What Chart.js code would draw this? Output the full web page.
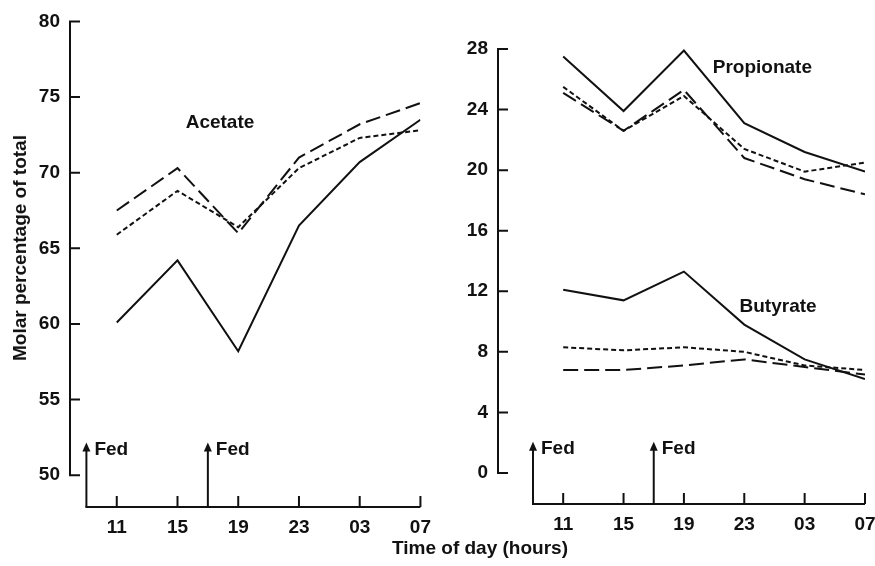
<!DOCTYPE html>
<html>
<head>
<meta charset="utf-8">
<script src="https://cdn.jsdelivr.net/npm/chart.js@4.4.1/dist/chart.umd.min.js"></script>
<style>
  body { margin: 0; background: #fff; width: 875px; height: 566px; overflow: hidden; position: relative;
         font-family: "Liberation Sans", Arial, sans-serif; color: #111; }
  canvas { position: absolute; top: 0; }
  #left { left: 0; }
  #right { left: 435px; }
  .title { position: absolute; font-size: 19px; font-weight: bold; white-space: nowrap; }
  #ytitle { left: 20px; top: 248px; transform: translate(-50%, -50%) rotate(-90deg); }
  #xtitle { left: 480px; top: 548px; transform: translate(-50%, -50%); }
</style>
</head>
<body>
<canvas id="left" width="440" height="566"></canvas>
<canvas id="right" width="450" height="566"></canvas>
<div class="title" id="ytitle">Molar percentage of total</div>
<div class="title" id="xtitle">Time of day (hours)</div>
<script>
const hours = ["11", "15", "19", "23", "03", "07"];
const fedHours = [9, 17];

// acetate (left panel)
const acetateSolid = [60.1, 64.2, 58.2, 66.5, 70.7, 73.5];
const acetateShort = [65.9, 68.8, 66.4, 70.3, 72.3, 72.8];
const acetateLong = [67.5, 70.3, 66.0, 71.0, 73.2, 74.6];

// propionate (right panel)
const propSolid = [27.5, 23.9, 27.9, 23.1, 21.2, 19.9];
const propShort = [25.5, 22.6, 24.9, 21.4, 19.9, 20.5];
const propLong = [25.1, 22.6, 25.3, 20.8, 19.4, 18.4];

// butyrate (right panel)
const butSolid = [12.1, 11.4, 13.3, 9.8, 7.5, 6.2];
const butShort = [8.3, 8.1, 8.3, 8.0, 7.1, 6.8];
const butLong = [6.8, 6.8, 7.1, 7.5, 7.0, 6.5];

const leftTicks = [50, 55, 60, 65, 70, 75, 80];
const rightTicks = [0, 4, 8, 12, 16, 20, 24, 28];

const INK = "#111";
const FONT = "Liberation Sans, Arial, sans-serif";
const SOLID = [];
const SHORT = [5, 3];
const LONG = [15, 6];

// hour of day -> position on the index axis (11h = 0, 4 h per step)
function hourPos(h) {
  return (h - 11) / 4;
}

function line(values, dash) {
  return {
    data: values.map((v, i) => ({ x: i, y: v })),
    borderColor: INK,
    borderWidth: 2,
    borderDash: dash,
    pointRadius: 0,
    tension: 0,
    fill: false,
  };
}

function frame(ticks, fedTip, names) {
  return {
    id: "frame",
    afterDraw(chart) {
      const { ctx, chartArea } = chart;
      const x = chart.scales.x;
      const y = chart.scales.y;
      ctx.save();
      ctx.strokeStyle = INK;
      ctx.fillStyle = INK;
      ctx.lineWidth = 2;

      // y axis with inward ticks
      const ax = chartArea.left;
      ctx.beginPath();
      ctx.moveTo(ax, y.getPixelForValue(ticks[ticks.length - 1]));
      ctx.lineTo(ax, y.getPixelForValue(ticks[0]));
      ticks.forEach((v) => {
        const p = y.getPixelForValue(v);
        ctx.moveTo(ax - 1, p);
        ctx.lineTo(ax + 10, p);
      });

      // x axis, starting at the first feed
      const by = chartArea.bottom;
      ctx.moveTo(x.getPixelForValue(hourPos(fedHours[0])) - 1, by);
      ctx.lineTo(x.getPixelForValue(hours.length - 1), by);
      hours.forEach((h, i) => {
        const p = x.getPixelForValue(i);
        ctx.moveTo(p, by);
        ctx.lineTo(p, by - 11);
      });
      ctx.stroke();

      // feed arrows
      ctx.font = "bold 19px " + FONT;
      ctx.textBaseline = "middle";
      ctx.textAlign = "left";
      fedHours.forEach((h) => {
        const px = x.getPixelForValue(hourPos(h));
        const tip = y.getPixelForValue(fedTip);
        ctx.beginPath();
        ctx.moveTo(px, by);
        ctx.lineTo(px, tip + 5);
        ctx.stroke();
        ctx.beginPath();
        ctx.moveTo(px, tip - 1);
        ctx.lineTo(px - 4, tip + 8);
        ctx.lineTo(px + 4, tip + 8);
        ctx.closePath();
        ctx.fill();
        ctx.fillText("Fed", px + 8, tip + 6);
      });

      // series names
      ctx.textAlign = "center";
      names.forEach((n) => {
        ctx.fillText(n.text, x.getPixelForValue(n.x), y.getPixelForValue(n.y));
      });
      ctx.restore();
    },
  };
}

function makeChart(id, cfg) {
  new Chart(document.getElementById(id), {
    type: "line",
    data: { datasets: cfg.datasets },
    options: {
      responsive: false,
      animation: false,
      devicePixelRatio: 1,
      layout: { padding: { top: cfg.top, right: cfg.right, left: 0, bottom: 0 } },
      plugins: { legend: { display: false }, tooltip: { enabled: false } },
      scales: {
        x: {
          type: "linear",
          min: cfg.xMin,
          max: hours.length - 1,
          grid: { display: false, drawTicks: false },
          border: { display: false },
          afterBuildTicks: (s) => {
            s.ticks = hours.map((h, i) => ({ value: i }));
          },
          afterFit: (s) => {
            s.height = cfg.xHeight;
          },
          ticks: {
            autoSkip: false,
            maxRotation: 0,
            padding: 9,
            color: INK,
            font: { size: 19, weight: "bold", family: FONT },
            callback: (v) => hours[v],
          },
        },
        y: {
          min: cfg.yMin,
          max: cfg.ticks[cfg.ticks.length - 1],
          grid: { display: false, drawTicks: false },
          border: { display: false },
          afterBuildTicks: (s) => {
            s.ticks = cfg.ticks.map((v) => ({ value: v }));
          },
          afterFit: (s) => {
            s.width = cfg.yWidth;
          },
          ticks: {
            padding: 10,
            color: INK,
            font: { size: 19, weight: "bold", family: FONT },
          },
        },
      },
    },
    plugins: [frame(cfg.ticks, cfg.fedTip, cfg.names)],
  });
}

makeChart("left", {
  datasets: [line(acetateSolid, SOLID), line(acetateShort, SHORT), line(acetateLong, LONG)],
  ticks: leftTicks,
  yMin: 47.9,
  xMin: -0.77,
  top: 15,
  right: 18,
  yWidth: 70,
  xHeight: 59,
  fedTip: 52.1,
  names: [{ text: "Acetate", x: 1.7, y: 73.3 }],
});

makeChart("right", {
  datasets: [
    line(propSolid, SOLID), line(propShort, SHORT), line(propLong, LONG),
    line(butSolid, SOLID), line(butShort, SHORT), line(butLong, LONG),
  ],
  ticks: rightTicks,
  yMin: -2.05,
  xMin: -1.08,
  top: 49,
  right: 20,
  yWidth: 63,
  xHeight: 62,
  fedTip: 2.0,
  names: [
    { text: "Propionate", x: 3.3, y: 26.75 },
    { text: "Butyrate", x: 3.56, y: 11.0 },
  ],
});
</script>
</body>
</html>
